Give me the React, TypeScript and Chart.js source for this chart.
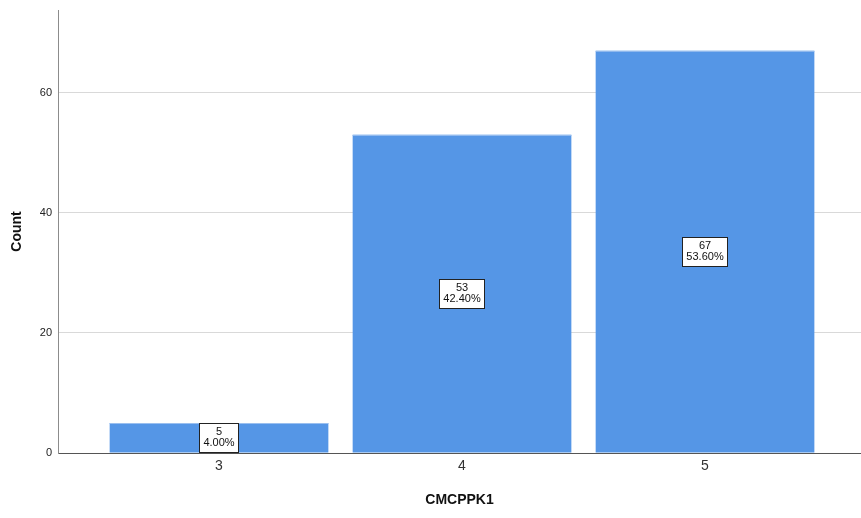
import React, { useEffect, useRef } from "react";
import { Chart, registerables } from "chart.js";

Chart.register(...registerables);

const categories = [3, 4, 5];
const counts = [5, 53, 67];
const yTicks = [0, 20, 40, 60];
const xTitle = "CMCPPK1";
const yTitle = "Count";

const FONT = "Arial, 'Liberation Sans', sans-serif";

const labelBoxPlugin = {
  id: "labelBoxes",
  afterDatasetsDraw(chart: any) {
    const ctx = chart.ctx;
    const meta = chart.getDatasetMeta(0);
    const total = counts.reduce((a, b) => a + b, 0);
    ctx.save();
    // thin lighter top edge on each bar
    ctx.fillStyle = "#9cc0ef";
    meta.data.forEach((el: any) => {
      ctx.fillRect(el.x - el.width / 2, el.y, el.width, 1);
    });
    ctx.font = `11px ${FONT}`;
    ctx.textAlign = "center";
    ctx.textBaseline = "middle";
    meta.data.forEach((el: any, i: number) => {
      const l1 = String(counts[i]);
      const l2 = ((counts[i] / total) * 100).toFixed(2) + "%";
      const w = Math.max(ctx.measureText(l1).width, ctx.measureText(l2).width) + 8;
      const h = 29;
      const cx = el.x;
      const cy = (el.y + el.base) / 2;
      const x0 = Math.round(cx - w / 2) + 0.5;
      const y0 = Math.round(cy - h / 2) + 0.5;
      ctx.fillStyle = "#ffffff";
      ctx.fillRect(x0, y0, Math.round(w), h);
      ctx.strokeStyle = "#222222";
      ctx.lineWidth = 1;
      ctx.strokeRect(x0, y0, Math.round(w), h);
      ctx.fillStyle = "#111111";
      ctx.fillText(l1, cx, y0 + 8.5);
      ctx.fillText(l2, cx, y0 + 19.5);
    });
    ctx.restore();
  },
};

export default function App() {
  const ref = useRef<HTMLCanvasElement | null>(null);
  useEffect(() => {
    if (!ref.current) return;
    const chart = new Chart(ref.current, {
      type: "bar",
      data: {
        datasets: [
          {
            data: categories.map((c, i) => ({ x: c, y: counts[i] })),
            backgroundColor: "#5596e6",
            borderWidth: 0,
            inflateAmount: 0,
            categoryPercentage: 1,
            barPercentage: 0.9,
          },
        ],
      },
      options: {
        animation: false,
        responsive: false,
        maintainAspectRatio: false,
        layout: { padding: { top: 10, right: 0, bottom: 0, left: 0 } },
        plugins: { legend: { display: false }, tooltip: { enabled: false } },
        scales: {
          x: {
            type: "linear",
            offset: false,
            min: 2.3374,
            max: 5.6419,
            afterBuildTicks: (s: any) => {
              s.ticks = categories.map((v) => ({ value: v }));
            },
            afterFit: (s: any) => {
              s.height = 65;
              s.paddingLeft = 0;
              s.paddingRight = 0;
            },
            grid: { display: false, drawTicks: false, offset: false },
            border: { display: true, color: "#555555", width: 1 },
            ticks: {
              padding: 5,
              color: "#333333",
              font: { family: FONT, size: 14 },
              callback: (v: any) => String(v),
            },
            title: {
              display: true,
              text: xTitle,
              color: "#111111",
              font: { family: FONT, size: 14, weight: "bold" },
              padding: { top: 0, bottom: 9 },
            },
          },
          y: {
            min: 0,
            max: 73.8,
            afterBuildTicks: (s: any) => {
              s.ticks = yTicks.map((v) => ({ value: v }));
            },
            afterFit: (s: any) => {
              s.width = 58;
              s.paddingTop = 0;
              s.paddingBottom = 0;
            },
            grid: {
              drawTicks: false,
              color: (c: any) => (c.tick && c.tick.value === 0 ? "rgba(0,0,0,0)" : "#d9d9d9"),
              lineWidth: 1,
            },
            border: { display: true, color: "#8c8c8c", width: 1 },
            ticks: {
              padding: 6,
              color: "#222222",
              font: { family: FONT, size: 11 },
            },
            title: {
              display: true,
              text: yTitle,
              color: "#111111",
              font: { family: FONT, size: 14, weight: "bold" },
              padding: { top: 9, bottom: 0 },
            },
          },
        },
      },
      plugins: [labelBoxPlugin],
    });
    return () => chart.destroy();
  }, []);
  return (
    <div style={{ position: "fixed", left: 0, top: 0, width: 861, height: 518, background: "#fff" }}>
      <canvas ref={ref} width={861} height={518} />
    </div>
  );
}
